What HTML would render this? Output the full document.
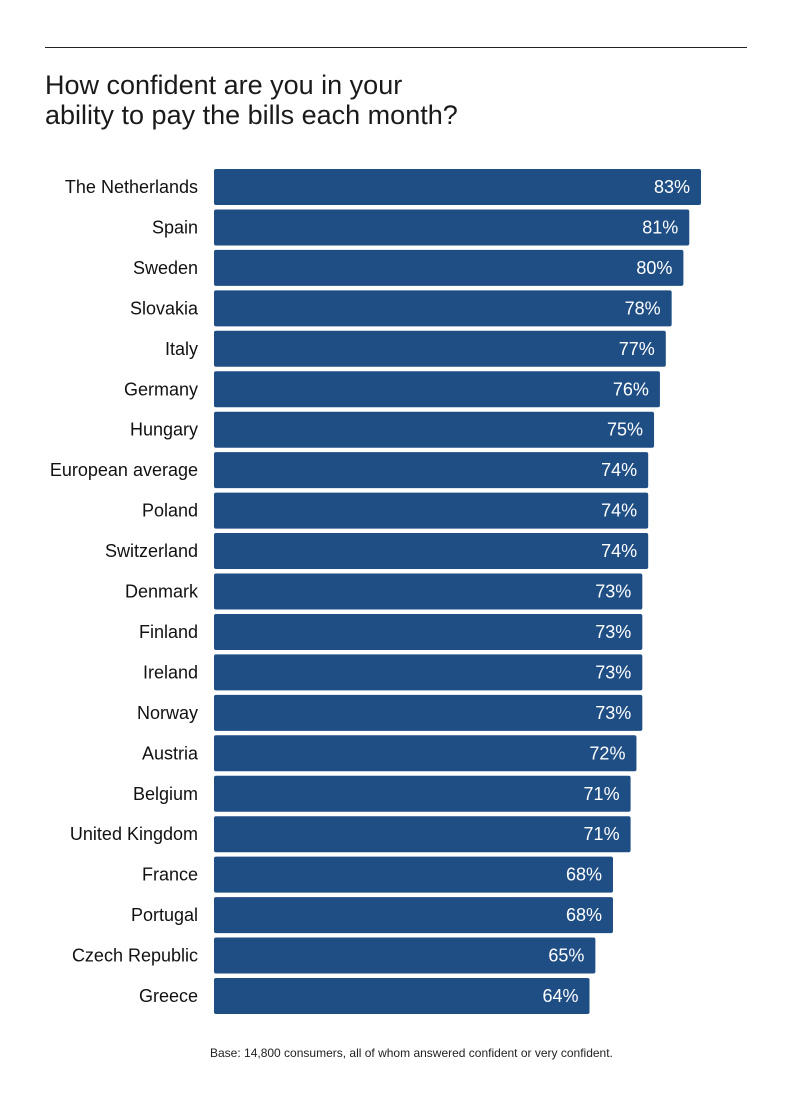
<!DOCTYPE html>
<html><head><meta charset="utf-8"><style>
body{margin:0;background:#fff;width:800px;height:1108px;position:relative;font-family:"Liberation Sans",sans-serif;color:#111}
#rule{position:absolute;left:45px;top:47px;width:702px;height:1px;background:#222}
#title{position:absolute;left:45px;top:70px;font-size:27px;line-height:30px;color:#1a1a1a}
#note{position:absolute;left:210px;top:1046px;font-size:12px;color:#222}
svg{position:absolute;left:0;top:0}
</style></head><body>
<div id="rule"></div>
<div id="title">How confident are you in your<br>ability to pay the bills each month?</div>
<svg id="chart" width="800" height="1108"></svg>
<div id="note">Base: 14,800 consumers, all of whom answered confident or very confident.</div>
<script>
const categories=["The Netherlands","Spain","Sweden","Slovakia","Italy","Germany","Hungary","European average","Poland","Switzerland","Denmark","Finland","Ireland","Norway","Austria","Belgium","United Kingdom","France","Portugal","Czech Republic","Greece"];
const values=[83,81,80,78,77,76,75,74,74,74,73,73,73,73,72,71,71,68,68,65,64];
const svg=document.getElementById('chart');
const NS='http://www.w3.org/2000/svg';
const x0=214, pxPer=487/83;
const xScale=v=>v*pxPer;
const yScale=i=>169+i*40.45;
categories.forEach((c,i)=>{
  const y=yScale(i), w=xScale(values[i]);
  const r=document.createElementNS(NS,'rect');
  r.setAttribute('x',x0);r.setAttribute('y',y);r.setAttribute('width',w);r.setAttribute('height',36);r.setAttribute('rx',2);r.setAttribute('fill','#1f4e85');
  
  
  svg.appendChild(r);
  const t=document.createElementNS(NS,'text');
  t.setAttribute('x',x0+w-11);t.setAttribute('y',y+24);t.setAttribute('text-anchor','end');t.setAttribute('fill','#fff');t.setAttribute('font-size','18');t.setAttribute('font-family','Liberation Sans, sans-serif');
  t.textContent=values[i]+'%';
  
  
  svg.appendChild(t);
  const l=document.createElementNS(NS,'text');
  l.setAttribute('x',198);l.setAttribute('y',y+24);l.setAttribute('text-anchor','end');l.setAttribute('fill','#111');l.setAttribute('font-size','18');l.setAttribute('font-family','Liberation Sans, sans-serif');
  l.textContent=c;
  
  
  svg.appendChild(l);
});
</script>
</body></html>
